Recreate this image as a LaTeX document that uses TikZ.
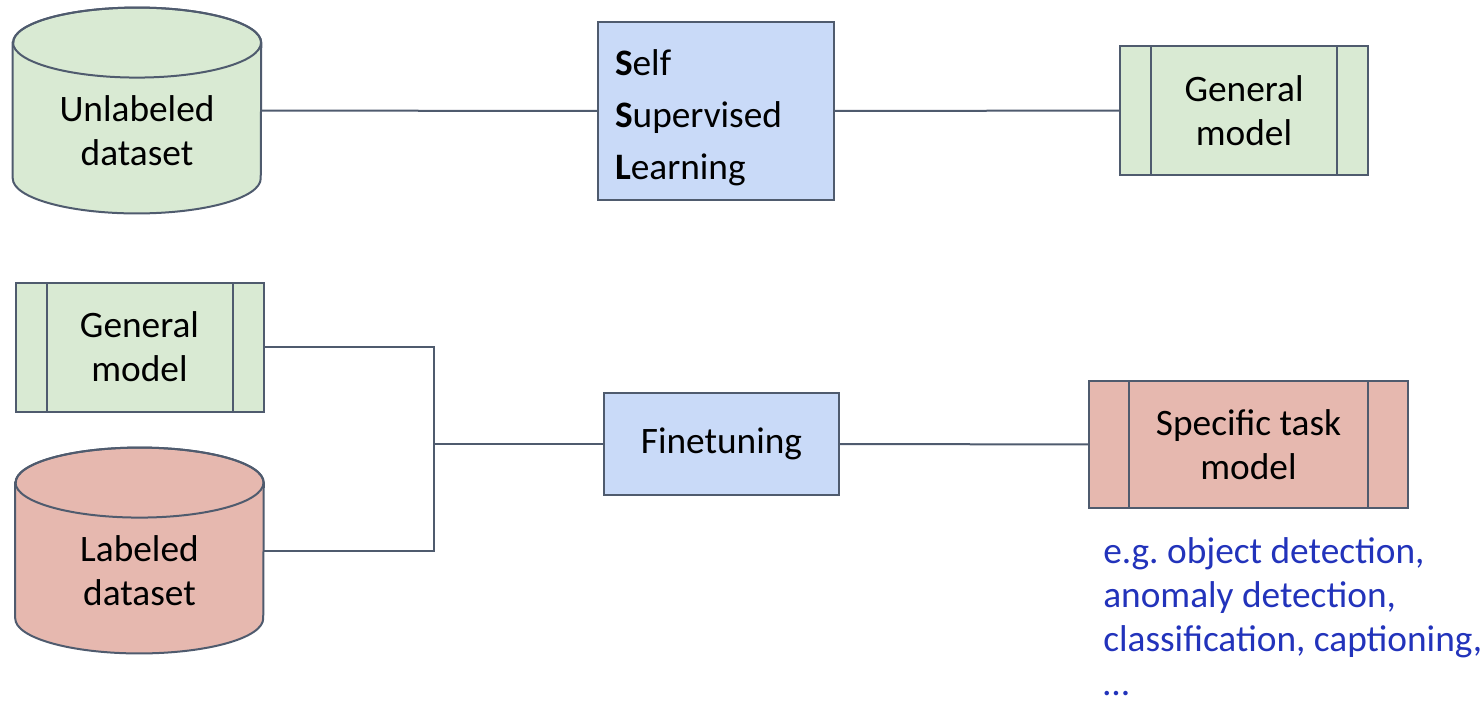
\documentclass[tikz,border=0pt]{standalone}
\usepackage{fontspec}
\setmainfont{Carlito}
\usepackage{tikz}
\usetikzlibrary{positioning, calc, backgrounds}

\definecolor{edgegray}{HTML}{4F5B6E}
\definecolor{greenfill}{HTML}{D9EAD3}
\definecolor{redfill}{HTML}{E6B8AF}
\definecolor{bluefill}{HTML}{C9DAF8}
\definecolor{notetext}{HTML}{2233BB}
\frenchspacing

\begin{document}
\begin{tikzpicture}[x=0.75pt, y=-0.75pt,
        base/.style={draw=edgegray, line width=1.5pt, align=center, inner sep=0pt, font=\fontsize{28}{33}\selectfont},
        dataset/.style={rectangle, inner sep=0pt, minimum width=186pt, minimum height=154pt},
        dtext/.style={align=center, inner sep=0pt, font=\fontsize{28}{33}\selectfont},
        process/.style={base, rectangle, fill=bluefill},
        model/.style={base, rectangle, minimum width=186pt, minimum height=96.75pt,
            path picture={\draw[edgegray, line width=1.5pt]
                ([xshift=#1]path picture bounding box.north west) -- ([xshift=#1]path picture bounding box.south west)
                ([xshift=-#1]path picture bounding box.north east) -- ([xshift=-#1]path picture bounding box.south east);}},
        model/.default=23.25pt,
        link/.style={draw=edgegray, line width=1.5pt},
        note/.style={align=left, inner sep=0pt, text=notetext, font=\fontsize{28}{33}\selectfont}
    ]
    \useasboundingbox (0,0) rectangle (1483,701);

    % Top row: pretraining
    \node[dataset] (unlab) at (137,110.5) {};
    \node[dtext] (unlabtxt) at ([yshift=-15pt]unlab.center) {Unlabeled\\dataset};
    \node[process, minimum width=177pt, minimum height=133.5pt, text width=151.5pt, align=left,
          font=\fontsize{28}{39}\selectfont] (ssl) at (716,111)
          {\rule{0pt}{30pt}\textbf{S}elf\\\textbf{S}upervised\\\textbf{L}earning};
    \node[model, fill=greenfill] (gentop) at (1244,110.5) {General\\model};

    % Bottom row: finetuning
    \node[model, fill=greenfill] (genbot) at (139.5,347) {General\\model};
    \node[dataset] (lab) at (139.5,550.5) {};
    \node[dtext] (labtxt) at ([yshift=-15pt]lab.center) {Labeled\\dataset};
    \coordinate (join) at (434,444);
    \node[process, minimum width=176.25pt, minimum height=76.5pt] (fine) at (721.5,444) {Finetuning};
    \node[model=30pt, fill=redfill, minimum width=239.25pt, minimum height=95.25pt] (spec) at (1248.5,444.5) {Specific task\\model};
    \node[note, anchor=north west] (tasks) at (1103,537)
          {e.g. object detection,\\anomaly detection,\\classification, captioning,\\…};

    % Cylinders behind the dataset labels
    \begin{scope}[on background layer]
        \foreach \db/\col in {unlab/greenfill, lab/redfill} {
            \draw[link, fill=\col] ($(\db.north west)+(0,35)$) -- ($(\db.south west)-(0,35)$)
                arc[start angle=180, end angle=0, x radius=124, y radius=35]
                -- ($(\db.north east)+(0,35)$)
                arc[start angle=0, end angle=-180, x radius=124, y radius=35] -- cycle;
            \draw[link] ($(\db.north)+(0,35)$) ellipse[x radius=124, y radius=35];
        }
    \end{scope}

    % Connectors
    \draw[link] (unlab) -- (ssl);
    \draw[link] (ssl) -- (gentop);
    \draw[link] (genbot) -| (join);
    \draw[link] (lab) -| (join);
    \draw[link] (join) -- (fine);
    \draw[link] (fine) -- (spec);
\end{tikzpicture}
\end{document}
